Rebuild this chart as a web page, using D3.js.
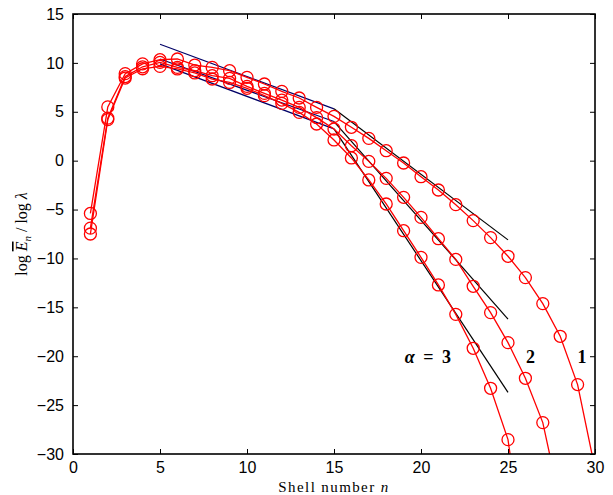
<!DOCTYPE html>
<html>
<head>
<meta charset="utf-8">
<script src="https://cdn.jsdelivr.net/npm/d3@7"></script>
<style>
  body { margin: 0; background: #fff; }
  .tick text { font-family: "Liberation Sans", Arial, sans-serif; font-size: 16px; }
</style>
</head>
<body>
<div id="chart"></div>
<script>
// shell numbers and energy spectra for alpha = 1, 2, 3
var shells = [1,2,3,4,5,6,7,8,9,10,11,12,13,14,15,16,17,18,19,20,21,22,23,24,25,26,27,28,29,30];
var alpha1 = [-5.4, 5.5, 8.9, 9.9, 10.33, 10.4, 9.78, 9.54, 9.2, 8.52, 7.84, 7.09, 6.41, 5.45, 4.53,
              3.41, 2.28, 1.02, -0.24, -1.64, -3.0, -4.5, -6.13, -7.87, -9.78, -11.96, -14.62, -17.96, -22.9, -31.5];
var alpha2 = [-6.9, 4.35, 8.6, 9.6, 10.05, 9.54, 9.2, 8.69, 8.42, 7.6, 6.88, 6.2, 5.45, 4.4, 3.24,
              1.53, -0.07, -1.81, -3.75, -5.8, -7.98, -10.1, -12.85, -15.54, -18.61, -22.26, -26.79, -35];
var alpha3 = [-7.5, 4.2, 8.45, 9.4, 9.64, 9.38, 8.97, 8.35, 8.0, 7.4, 6.65, 5.86, 4.94, 3.75, 2.12,
              0.28, -1.97, -4.43, -7.16, -9.89, -12.71, -15.72, -19.19, -23.28, -28.53, -41];

// straight-line fits: inertial range (navy) and dissipation range (black)
var inertialN = [5, 15];
var inertial1 = [11.9, 5.3];
var inertial2 = [10.4, 4.0];
var inertial3 = [9.9, 3.25];
var dissN = [15, 25];
var diss1 = [5.3, -8.1];
var diss2 = [4.0, -16.2];
var diss3 = [3.25, -23.7];

var xTicks = [0, 5, 10, 15, 20, 25, 30];
var yTicks = [15, 10, 5, 0, -5, -10, -15, -20, -25, -30];

var labelText = ["3", "2", "1"];
var labelN = [20.4, 26.3, 29.25];
var labelV = [-20.1, -20.1, -20.1];

var W = 613, H = 495;
var margin = { top: 14, right: 18, bottom: 41, left: 73 };
var w = W - margin.left - margin.right;
var h = H - margin.top - margin.bottom;

var svg = d3.select("#chart").append("svg")
  .attr("width", W)
  .attr("height", H);

var g = svg.append("g")
  .attr("transform", "translate(" + margin.left + "," + margin.top + ")");

var x = d3.scaleLinear().domain([0, 30]).range([0, w]);
var y = d3.scaleLinear().domain([-30, 15]).range([h, 0]);

svg.append("defs").append("clipPath").attr("id", "clip")
  .append("rect").attr("width", w).attr("height", h);

var plot = g.append("g").attr("clip-path", "url(#clip)");

var line = d3.line()
  .x(function(d) { return x(d[0]); })
  .y(function(d) { return y(d[1]); });

function pairs(ns, vs) {
  return vs.map(function(v, i) { return [ns[i], v]; });
}

// fit lines
[inertial1, inertial2, inertial3].forEach(function(vals) {
  plot.append("path")
    .datum(pairs(inertialN, vals))
    .attr("d", line)
    .attr("fill", "none")
    .attr("stroke", "#000066")
    .attr("stroke-width", 1.2);
});
[diss1, diss2, diss3].forEach(function(vals) {
  plot.append("path")
    .datum(pairs(dissN, vals))
    .attr("d", line)
    .attr("fill", "none")
    .attr("stroke", "#000")
    .attr("stroke-width", 1.2);
});

// data series
[alpha1, alpha2, alpha3].forEach(function(vals) {
  var pts = pairs(shells, vals);
  plot.append("path")
    .datum(pts)
    .attr("d", line)
    .attr("fill", "none")
    .attr("stroke", "#ff0000")
    .attr("stroke-width", 1.3);
  plot.selectAll(null)
    .data(pts)
    .enter().append("circle")
    .attr("cx", function(d) { return x(d[0]); })
    .attr("cy", function(d) { return y(d[1]); })
    .attr("r", 6)
    .attr("fill", "none")
    .attr("stroke", "#ff0000")
    .attr("stroke-width", 1.3);
});

// axes, ticks pointing inward on all four sides
var tickLen = 5;
g.append("g")
  .attr("transform", "translate(0," + h + ")")
  .call(d3.axisBottom(x).tickValues(xTicks).tickSizeInner(-tickLen).tickSizeOuter(0).tickPadding(8))
  .call(function(a) { a.select(".domain").remove(); });
g.append("g")
  .call(d3.axisTop(x).tickValues(xTicks).tickSizeInner(-tickLen).tickSizeOuter(0).tickFormat(""))
  .call(function(a) { a.select(".domain").remove(); });
g.append("g")
  .call(d3.axisLeft(y).tickValues(yTicks).tickSizeInner(-tickLen).tickSizeOuter(0).tickPadding(9))
  .call(function(a) { a.select(".domain").remove(); });
g.append("g")
  .attr("transform", "translate(" + w + ",0)")
  .call(d3.axisRight(y).tickValues(yTicks).tickSizeInner(-tickLen).tickSizeOuter(0).tickFormat(""))
  .call(function(a) { a.select(".domain").remove(); });

g.selectAll(".tick line").attr("stroke", "#000").attr("stroke-width", 1);
g.selectAll(".tick text").attr("fill", "#000");

g.append("rect")
  .attr("width", w)
  .attr("height", h)
  .attr("fill", "none")
  .attr("stroke", "#000")
  .attr("stroke-width", 1.6);

// curve labels
var lab = g.append("g")
  .attr("font-family", "'Liberation Serif', 'DejaVu Serif', serif")
  .attr("font-weight", "bold")
  .attr("font-size", 18);
labelText.forEach(function(t, i) {
  var txt = lab.append("text")
    .attr("x", x(labelN[i]))
    .attr("y", y(labelV[i]))
    .attr("text-anchor", "middle")
    .attr("dominant-baseline", "central");
  if (i === 0) {
    txt.attr("word-spacing", 4);
    txt.append("tspan").attr("font-style", "italic").text("\u03b1");
    txt.append("tspan").text(" = " + t);
  } else {
    txt.text(t);
  }
});

// axis labels
var xl = svg.append("text")
  .attr("x", margin.left + w / 2)
  .attr("y", 492)
  .attr("text-anchor", "middle")
  .attr("font-family", "'Liberation Serif', 'DejaVu Serif', serif")
  .attr("font-size", 15)
  .attr("letter-spacing", 1.4);
xl.append("tspan").text("Shell number ");
xl.append("tspan").attr("font-style", "italic").text("n");

var yl = svg.append("text")
  .attr("transform", "translate(27," + (margin.top + h / 2) + ") rotate(-90)")
  .attr("text-anchor", "middle")
  .attr("font-family", "'Liberation Serif', 'DejaVu Serif', serif")
  .attr("font-size", 16);
yl.append("tspan").text("log ");
yl.append("tspan").attr("font-style", "italic").attr("text-decoration", "overline").text("E");
yl.append("tspan").attr("font-style", "italic").attr("font-size", 11).attr("dy", 4).text("n");
yl.append("tspan").attr("dy", -4).text(" / log ");
yl.append("tspan").attr("font-style", "italic").text("\u03bb");
</script>
</body>
</html>
